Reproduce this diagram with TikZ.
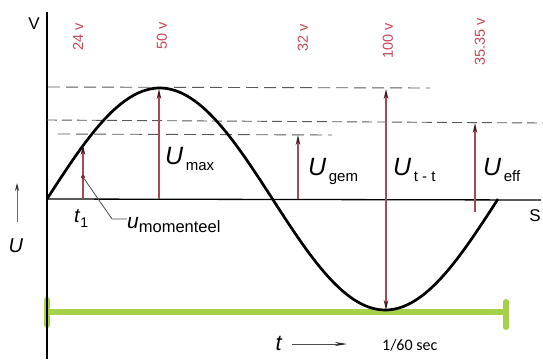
\documentclass[tikz,border=0pt]{standalone}
\usepackage{fontspec}
\setmainfont{Liberation Sans}
\newfontfamily\calib{Carlito}
\usetikzlibrary{arrows.meta}
\definecolor{vred}{HTML}{C8485A}
\definecolor{aline}{HTML}{A84858}
\definecolor{lgreen}{HTML}{A6D14A}
\definecolor{tipc}{HTML}{3A1A1A}
\begin{document}
\begin{tikzpicture}[x=1pt,y=-1pt,
  vlab/.style={rotate=90,text=vred,font=\fontsize{14.5}{14.5}\selectfont,inner sep=0pt},
  varrow/.style={draw=aline,line width=1.1pt,-{Stealth[length=10pt,width=4.5pt,color=tipc]}},
  dashl/.style={draw=black!65,line width=0.9pt,dash pattern=on 12pt off 6pt},
  ulab/.style={anchor=base west,inner sep=0pt,font=\fontsize{25}{25}\selectfont},
  axisl/.style={draw=black,line width=1.3pt},
  gbar/.style={draw=lgreen,line width=6.5pt}]
\useasboundingbox (0,0) rectangle (543,359);
\fill[white] (0,0) rectangle (543,359);

% green bar
\coordinate (gL) at (47,312);
\coordinate (gR) at (506,312);
\coordinate (gL1) at (47,300);
\coordinate (gL2) at (47,325);
\coordinate (gR1) at (506,302);
\coordinate (gR2) at (506,327);
\draw[gbar] (gL) -- (gR);
\draw[draw=lgreen,line width=6pt,line cap=round] (gL1) -- (gL2);
\draw[draw=lgreen,line width=6pt,line cap=round] (gR1) -- (gR2);

% axes
\coordinate (vtop) at (47,12);
\coordinate (vbot) at (47,359);
\coordinate (h0) at (47,199);
\coordinate (h1) at (541,200);
\draw[axisl] (vbot) -- (vtop);
\draw[axisl] (h0) -- (h1);

% dashed levels
\coordinate (d1a) at (48,87);
\coordinate (d1b) at (430,88);
\coordinate (d2a) at (47,120);
\coordinate (d2b) at (543,123);
\coordinate (d3a) at (58,134);
\coordinate (d3b) at (332,135);
\draw[dashl] (d1a) -- (d1b);
\draw[dashl,dash pattern=on 10pt off 5pt] (d2a) -- (d2b);
\draw[dashl] (d3a) -- (d3b);

% sine
\draw[line width=2.7pt,line join=round] plot[domain=0:360,samples=120] ({47+1.252778*\x},{199-111*sin(\x)});

% arrows
\coordinate (a1b) at (83,199); \coordinate (a1t) at (83,145);
\coordinate (a2b) at (159,199); \coordinate (a2t) at (159,89);
\coordinate (a3b) at (298,199); \coordinate (a3t) at (298,135);
\coordinate (a4t) at (386,89); \coordinate (a4b) at (386,310);
\coordinate (a5b) at (475,212); \coordinate (a5t) at (475,123);
\draw[varrow] (a1b) -- (a1t);
\draw[varrow] (a2b) -- (a2t);
\draw[varrow] (a3b) -- (a3t);
\draw[varrow,{Stealth[length=10pt,width=4.5pt,color=tipc]}-{Stealth[length=10pt,width=4.5pt,color=tipc]}] (a4b) -- (a4t);
\draw[varrow] (a5b) -- (a5t);

% value labels
\node[vlab] (l24) at (78,37) {24 v};
\node[vlab] (l50) at (162,36) {50 v};
\node[vlab] (l32) at (303,38) {32 v};
\node[vlab] (l100) at (388,41) {100 v};
\node[vlab] (l3535) at (480,42) {35.35 v};

% U labels
\node[ulab] (umax) at (165,164) {\textit{U}\raisebox{-6pt}{\fontsize{15}{15}\selectfont\,max}};
\node[ulab] (ugem) at (308,175) {\textit{U}\raisebox{-6pt}{\fontsize{15}{15}\selectfont\,gem}};
\node[ulab] (utt) at (393,175) {\textit{U}\raisebox{-6pt}{\fontsize{15}{15}\selectfont\,t - t}};
\node[ulab] (ueff) at (483,175) {\textit{U}\raisebox{-6pt}{\fontsize{15}{15}\selectfont\,eff}};

% t1 and momentary value
\node[circle,fill=aline!70!black,inner sep=0pt,minimum size=4pt] (dot) at (83,177) {};
\node[anchor=base west,inner sep=0pt,font=\fontsize{20}{20}\selectfont] (t1) at (74,222) {\textit{t}\raisebox{-5pt}{\fontsize{14}{14}\selectfont 1}};
\node[anchor=base west,inner sep=0pt,font=\fontsize{21}{21}\selectfont] (umom) at (127,228) {\textit{u}\raisebox{-4pt}{\fontsize{16.5}{16.5}\selectfont momenteel}};
\coordinate (lk) at (112,219);
\draw[black!70,line width=0.8pt] (dot) -- (lk) -- (umom.west |- lk);

% axis letters
\node[inner sep=0pt,font=\fontsize{17}{17}\selectfont] (V) at (34,24) {V};
\node[inner sep=0pt,font=\fontsize{17}{17}\selectfont] (S) at (535,216) {S};
\node[anchor=base,inner sep=0pt,font=\fontsize{20}{20}\selectfont] (U) at (16,252) {\textit{U}};
\coordinate (ua1) at (17,222);
\coordinate (ua2) at (17,183);
\draw[black!60,line width=0.8pt,-{Stealth[length=8pt,width=4pt,color=black!80]}] (ua1) -- (ua2);

% time
\node[anchor=base,inner sep=0pt,font=\fontsize{22}{22}\selectfont] (t) at (279,350) {\textit{t}};
\coordinate (ta1) at (292,344);
\coordinate (ta2) at (347,344);
\draw[black!70,line width=0.8pt,-{Stealth[length=12pt,width=4pt,color=black!85]}] (ta1) -- (ta2);
\node[anchor=west,inner sep=0pt,font=\calib\fontsize{16}{16}\selectfont] (sec) at (382,345) {1/60 sec};
\end{tikzpicture}
\end{document}
